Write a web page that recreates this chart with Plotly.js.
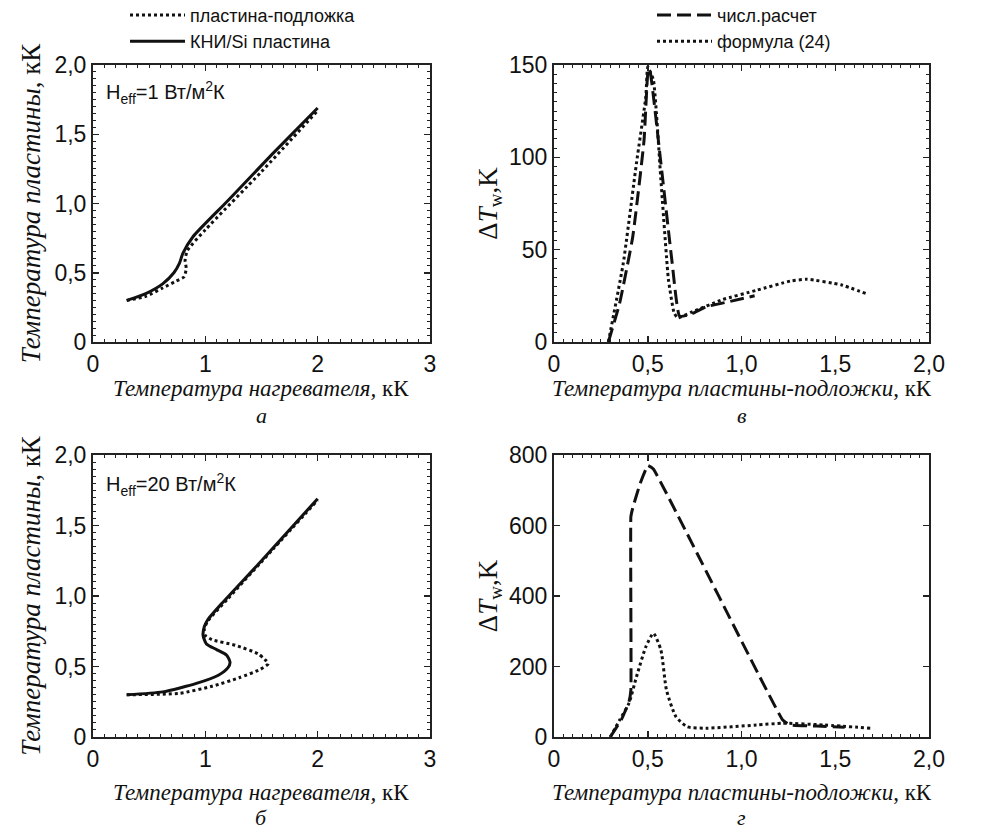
<!DOCTYPE html>
<html><head><meta charset="utf-8">
<script src="https://cdn.plot.ly/plotly-3.0.1.min.js"></script>
<style>html,body{margin:0;padding:0;background:#fff}</style>
</head><body><div id="chart" style="width:986px;height:831px"></div>
<script>
// Panel a (H_eff = 1)
const aSubX = [0.30,0.47,0.62,0.74,0.81,0.83,0.82,0.84,1.00,1.50,2.00];
const aSubY = [0.30,0.33,0.39,0.44,0.47,0.53,0.59,0.66,0.81,1.23,1.67];
const aSoiX = [0.30,0.47,0.62,0.72,0.77,0.80,0.89,1.20,1.60,2.00];
const aSoiY = [0.30,0.35,0.42,0.50,0.57,0.64,0.76,1.02,1.36,1.69];
// Panel б (H_eff = 20)
const bSubX = [0.30,0.77,1.06,1.30,1.49,1.56,1.53,1.47,1.27,1.06,1.00,0.99,1.02,1.20,1.60,2.00];
const bSubY = [0.30,0.31,0.36,0.42,0.48,0.52,0.55,0.59,0.65,0.69,0.72,0.76,0.82,0.98,1.33,1.68];
const bSoiX = [0.30,0.62,0.92,1.12,1.20,1.22,1.19,1.10,1.01,0.98,0.99,1.02,1.15,1.50,2.00];
const bSoiY = [0.30,0.32,0.38,0.44,0.49,0.53,0.58,0.62,0.66,0.72,0.78,0.83,0.95,1.25,1.69];
// Panel в
const vNumX = [0.29,0.35,0.42,0.48,0.50,0.51,0.57,0.63,0.67,0.73,0.81,0.94,1.07];
const vNumY = [0,21,57,109,145,148,97,43,14,15,19,22,25];
const vFormX = [0.29,0.37,0.44,0.49,0.50,0.53,0.57,0.61,0.64,0.66,0.73,0.90,1.08,1.26,1.35,1.53,1.67];
const vFormY = [0,43,97,133,149,142,88,34,16,13,16,23,28,33,34,31,26];
// Panel г
const gNumX = [0.30,0.36,0.40,0.41,0.41,0.42,0.46,0.50,0.53,1.22,1.26,1.40,1.55];
const gNumY = [0,50,100,133,625,650,720,770,760,48,34,31,28];
const gFormX = [0.30,0.35,0.40,0.44,0.49,0.53,0.57,0.60,0.65,0.71,0.81,1.08,1.22,1.44,1.69];
const gFormY = [0,48,96,171,256,294,247,133,58,29,25,34,39,34,25];

// Tick labels and texts
const tempTicks = [0,1,2,3];
const tempTickText = ['0','1','2','3'];
const plateTicks = [0,0.5,1,1.5,2];
const plateTickText = ['0','0,5','1,0','1,5','2,0'];
const subTicks = [0,0.5,1,1.5,2];
const subTickText = ['0','0,5','1,0','1,5','2,0'];
const dtTicksV = [0,50,100,150];
const dtTicksG = [0,200,400,600,800];
const panelLetters = ['а','в','б','г'];

const W = 986, H = 831;
const py = (top,bot) => [1-bot/H, 1-top/H];

const tickFont = {family:'Liberation Sans, Arial, sans-serif', size:23, color:'#111'};
const titleFont = {family:'Liberation Serif, Times New Roman, serif', size:23, color:'#111'};
const letterFont = {family:'Liberation Serif, Times New Roman, serif', size:22, color:'#111'};
const ytitleFont = {family:'Liberation Serif, Times New Roman, serif', size:27, color:'#111'};

function ax(extra){
  return Object.assign({
    showline:true, linewidth:2, linecolor:'#222', mirror:'ticks',
    ticks:'inside', ticklen:6, tickwidth:1.5, tickcolor:'#222',
    showgrid:false, zeroline:false, tickfont:tickFont, tickmode:'array',
    ticklabelstandoff:0, fixedrange:true
  }, extra);
}

const LW = 3;
const traces = [
  {x:aSubX, y:aSubY, xaxis:'x', yaxis:'y', mode:'lines', name:'пластина-подложка',
   line:{color:'#111', width:LW, dash:'dot', shape:'spline', smoothing:0.6}, legend:'legend'},
  {x:aSoiX, y:aSoiY, xaxis:'x', yaxis:'y', mode:'lines', name:'КНИ/Si пластина',
   line:{color:'#111', width:LW, shape:'spline', smoothing:0.6}, legend:'legend'},
  {x:bSubX, y:bSubY, xaxis:'x2', yaxis:'y2', mode:'lines', showlegend:false,
   line:{color:'#111', width:LW, dash:'dot', shape:'spline', smoothing:0.6}},
  {x:bSoiX, y:bSoiY, xaxis:'x2', yaxis:'y2', mode:'lines', showlegend:false,
   line:{color:'#111', width:LW, shape:'spline', smoothing:0.6}},
  {x:vNumX, y:vNumY, xaxis:'x3', yaxis:'y3', mode:'lines', name:'числ.расчет',
   line:{color:'#111', width:LW, dash:'14px,6px', shape:'spline', smoothing:0.4}, legend:'legend2'},
  {x:vFormX, y:vFormY, xaxis:'x3', yaxis:'y3', mode:'lines', name:'формула (24)',
   line:{color:'#111', width:LW, dash:'dot', shape:'spline', smoothing:0.4}, legend:'legend2'},
  {x:gNumX, y:gNumY, xaxis:'x4', yaxis:'y4', mode:'lines', showlegend:false,
   line:{color:'#111', width:LW, dash:'14px,6px', shape:'spline', smoothing:0.3}},
  {x:gFormX, y:gFormY, xaxis:'x4', yaxis:'y4', mode:'lines', showlegend:false,
   line:{color:'#111', width:LW, dash:'dot', shape:'spline', smoothing:0.6}}
];

const domXa = [93/W, 430/W], domXv = [554/W, 929/W];
const domYtop = py(65,342), domYbot = py(455,737);
const cxA = (domXa[0]+domXa[1])/2, cxV = (domXv[0]+domXv[1])/2;

const yTitleA = {text:'<i>Температура пластины</i>, кК', font:ytitleFont, standoff:6};
const yTitleV = {text:'Δ<i>T</i><sub>w</sub>,K', font:ytitleFont, standoff:4};
const xTitleAText = '<i>Температура нагревателя,</i> кК';
const xTitleVText = '<i>Температура пластины-подложки</i>, кК';

const legFont = {family:'Liberation Sans, Arial, sans-serif', size:18, color:'#111'};

function note(x, yPx, text, font){
  return {xref:'paper', yref:'paper', x:x, y:1-yPx/H, xanchor:'center', yanchor:'middle',
          showarrow:false, text:text, font:font, borderpad:0};
}

const layout = {
  width:W, height:H, margin:{l:0,r:0,t:0,b:0, autoexpand:false},
  paper_bgcolor:'#fff', plot_bgcolor:'#fff', showlegend:true,
  xaxis: ax({domain:domXa, anchor:'y', range:[0,3], tickvals:tempTicks, ticktext:tempTickText,
    minor:{ticks:'inside', ticklen:3, dtick:0.1, tickcolor:'#222', tickwidth:1}}),
  yaxis: ax({domain:domYtop, anchor:'x', range:[0,2], tickvals:plateTicks, ticktext:plateTickText,
    minor:{ticks:'inside', ticklen:3, dtick:0.05, tickcolor:'#222', tickwidth:1}, title:yTitleA}),
  xaxis2: ax({domain:domXa, anchor:'y2', range:[0,3], tickvals:tempTicks, ticktext:tempTickText,
    minor:{ticks:'inside', ticklen:3, dtick:0.1, tickcolor:'#222', tickwidth:1}}),
  yaxis2: ax({domain:domYbot, anchor:'x2', range:[0,2], tickvals:plateTicks, ticktext:plateTickText,
    minor:{ticks:'inside', ticklen:3, dtick:0.05, tickcolor:'#222', tickwidth:1}, title:yTitleA}),
  xaxis3: ax({domain:domXv, anchor:'y3', range:[0,2], tickvals:subTicks, ticktext:subTickText,
    minor:{ticks:'inside', ticklen:3, dtick:0.05, tickcolor:'#222', tickwidth:1}}),
  yaxis3: ax({domain:domYtop, anchor:'x3', range:[0,150], tickvals:dtTicksV, ticktext:dtTicksV.map(String),
    minor:{ticks:'inside', ticklen:3, dtick:5, tickcolor:'#222', tickwidth:1}, title:yTitleV}),
  xaxis4: ax({domain:domXv, anchor:'y4', range:[0,2], tickvals:subTicks, ticktext:subTickText,
    minor:{ticks:'inside', ticklen:3, dtick:0.05, tickcolor:'#222', tickwidth:1}}),
  yaxis4: ax({domain:domYbot, anchor:'x4', range:[0,800], tickvals:dtTicksG, ticktext:dtTicksG.map(String),
    title:yTitleV}),
  legend:{x:125/W, y:1.004, xanchor:'left', yanchor:'top', bgcolor:'rgba(0,0,0,0)',
    font:legFont, itemwidth:55, tracegroupgap:0, borderwidth:0},
  legend2:{x:652/W, y:1.004, xanchor:'left', yanchor:'top', bgcolor:'rgba(0,0,0,0)',
    font:legFont, itemwidth:55, tracegroupgap:0, borderwidth:0},
  annotations:[
    {xref:'x', yref:'y', x:0.1, y:1.80, xanchor:'left', yanchor:'middle', showarrow:false,
     text:'H<sub>eff</sub>=1 Вт/м<sup>2</sup>К', font:{family:'Liberation Sans, Arial, sans-serif', size:20, color:'#111'}},
    {xref:'x2', yref:'y2', x:0.1, y:1.79, xanchor:'left', yanchor:'middle', showarrow:false,
     text:'H<sub>eff</sub>=20 Вт/м<sup>2</sup>К', font:{family:'Liberation Sans, Arial, sans-serif', size:20, color:'#111'}},
    note(cxA, 389, xTitleAText, titleFont),
    note(cxV, 389, xTitleVText, titleFont),
    note(cxA, 792, xTitleAText, titleFont),
    note(cxV, 792, xTitleVText, titleFont),
    note(cxA, 415, '<i>'+panelLetters[0]+'</i>', letterFont),
    note(cxV, 415, '<i>'+panelLetters[1]+'</i>', letterFont),
    note(cxA, 817, '<i>'+panelLetters[2]+'</i>', letterFont),
    note(cxV, 817, '<i>'+panelLetters[3]+'</i>', letterFont)
  ]
};

Plotly.newPlot('chart', traces, layout, {staticPlot:true, displayModeBar:false});
</script></body></html>
